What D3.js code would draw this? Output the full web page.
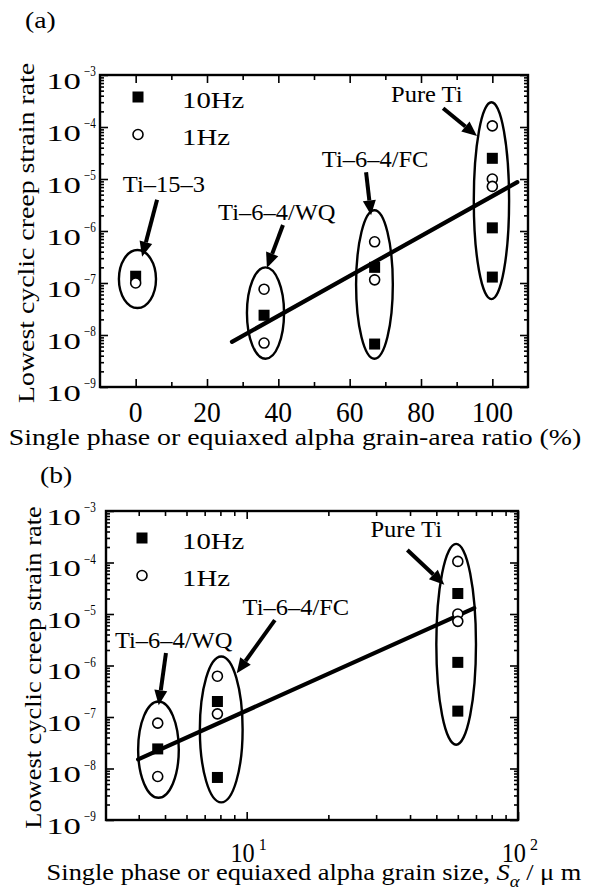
<!DOCTYPE html>
<html>
<head>
<meta charset="utf-8">
<script src="https://cdn.jsdelivr.net/npm/d3@7"></script>
<style>
    body { margin: 0; background: #fff; }
</style>
</head>
<body>
<div id="chart"></div>
<script>

// ---- data ----
const alloys     = ["Ti–15–3", "Ti–6–4/WQ", "Ti–6–4/FC", "Pure Ti"];
const areaRatio  = [0, 36, 67, 100];          // %
const grainSize  = [null, 4.7, 7.8, 60];      // µm (Ti-15-3 not in panel b)
const rate10Hz   = [[1.35e-7], [2.4e-8], [2.0e-7, 6.7e-9], [2.5e-5, 1.15e-6, 1.3e-7]];
const rate1Hz    = [[1.0e-7], [7.6e-8, 7.0e-9], [6.2e-7, 1.15e-7], [1.05e-4, 1.0e-5, 7.2e-6]];

// regression lines
const fitAreaX   = [27, 107];
const fitAreaY   = [7.4e-9, 8.7e-6];
const fitSizeX   = [3.98, 69];
const fitSizeY   = [1.5e-8, 1.3e-5];

// group outlines: x extent and y extent in data units
const groupAreaX = [[-4.7, 5.7], [31.2, 41.6], [61.8, 72.1], [94.8, 104.7]];
const groupAreaY = [[3.3e-8, 4.3e-7], [3.5e-9, 2.0e-7], [3.5e-9, 2.5e-6], [4.9e-8, 3.0e-4]];
const groupSizeX = [null, [3.98, 5.62], [6.72, 9.66], [50, 70]];
const groupSizeY = [null, [2.7e-9, 2.0e-7], [2.2e-9, 1.5e-6], [2.9e-8, 2.3e-4]];

// label anchor (text start) and arrow from -> to, in data units
const noteArea = [
    {tx: -3.6, ty: 5.6e-6, ax: 6.0,  ay: 4.0e-6, bx: 1.8,  by: 3.2e-7},
    {tx: 23.1, ty: 1.6e-6, ax: 41.3, ay: 1.3e-6, bx: 36.8, by: 1.95e-7},
    {tx: 52.2, ty: 1.7e-5, ax: 64.6, ay: 1.35e-5, bx: 66.0, by: 2.0e-6},
    {tx: 71.6, ty: 3.0e-4, ax: 86.2, ay: 2.3e-4, bx: 95.7, by: 6.7e-5}
];
const noteSize = [
    null,
    {tx: 3.27, ty: 2.2e-6, ax: 5.04, ay: 1.75e-6, bx: 4.74, by: 1.7e-7},
    {tx: 9.66, ty: 9.5e-6, ax: 12.7, ay: 7.6e-6, bx: 9.19, by: 7.1e-7},
    {tx: 28.6, ty: 3.1e-4, ax: 39.1, ay: 1.75e-4, bx: 53.5, by: 3.7e-5}
];

const yMajor = [1e-9, 1e-8, 1e-7, 1e-6, 1e-5, 1e-4, 1e-3];
const yExp   = ["−9", "−8", "−7", "−6", "−5", "−4", "−3"];
const areaTicks      = [0, 20, 40, 60, 80, 100];
const areaMinorTicks = [10, 30, 50, 70, 90];
const sizeTicks      = [10, 100];
const sizeExp        = ["1", "2"];
const sizeMinorTicks = [4, 5, 6, 7, 8, 9, 20, 30, 40, 50, 60, 70, 80, 90];
const legendNames    = ["10Hz", "1Hz"];

const FONT = "'Liberation Serif', 'DejaVu Serif', serif";

let svg = d3.select("#chart").append("svg")
    .attr("width", 590)
    .attr("height", 894);

// text helper, sx stretches glyphs along the baseline
function addText(g, str, x, y, size, opts) {
    opts = opts || {};
    let tf = "translate(" + x + "," + y + ")";
    if (opts.rotate) tf += " rotate(" + opts.rotate + ")";
    tf += " scale(" + (opts.sx || 1) + ",1)";
    return g.append("text")
        .attr("transform", tf)
        .attr("text-anchor", opts.anchor || "start")
        .attr("font-family", FONT)
        .attr("font-size", size)
        .attr("fill", "#000")
        .text(str);
}


class CreepPanel {

    constructor(svg, cfg) {
        this.svg = svg;
        this.cfg = cfg;
        this.initVis();
    }

    initVis() {
        let vis = this, c = vis.cfg;

        vis.g = vis.svg.append("g");

        vis.x = (c.logX ? d3.scaleLog() : d3.scaleLinear())
            .domain(c.xDomain)
            .range([c.left, c.right]);

        vis.y = d3.scaleLog()
            .domain([1e-9, 1e-3])
            .range([c.bottom, c.top]);

        // minor ticks for log y
        vis.yMinor = [];
        for (let e = -9; e < -3; e++) {
            for (let k = 2; k <= 9; k++) vis.yMinor.push(k * Math.pow(10, e));
        }

        vis.drawAxes();
        vis.drawMarks();
    }

    drawAxes() {
        let vis = this, c = vis.cfg;
        let g = vis.g;

        let tickAxis = function(axisFn, scale, values, size, tf) {
            let a = g.append("g")
                .attr("transform", tf)
                .call(axisFn(scale).tickValues(values).tickSize(-size).tickFormat(""));
            a.select(".domain").remove();
            a.selectAll("line").attr("stroke", "#000").attr("stroke-width", 1.6);
        };

        tickAxis(d3.axisLeft, vis.y, yMajor, 8, "translate(" + c.left + ",0)");
        tickAxis(d3.axisLeft, vis.y, vis.yMinor, 4, "translate(" + c.left + ",0)");
        tickAxis(d3.axisRight, vis.y, yMajor, 8, "translate(" + c.right + ",0)");
        tickAxis(d3.axisRight, vis.y, vis.yMinor, 4, "translate(" + c.right + ",0)");

        tickAxis(d3.axisBottom, vis.x, c.xMajor, 8, "translate(0," + c.bottom + ")");
        tickAxis(d3.axisBottom, vis.x, c.xMinor, 5, "translate(0," + c.bottom + ")");
        tickAxis(d3.axisTop, vis.x, c.xMajor, 8, "translate(0," + c.top + ")");
        tickAxis(d3.axisTop, vis.x, c.xMinor, 5, "translate(0," + c.top + ")");

        // frame
        g.append("rect")
            .attr("x", c.left).attr("y", c.top)
            .attr("width", c.right - c.left)
            .attr("height", c.bottom - c.top)
            .attr("fill", "none")
            .attr("stroke", "#000")
            .attr("stroke-width", 2.4);

        // y tick labels 10^n
        yMajor.forEach((v, i) => {
            let yy = vis.y(v);
            addText(g, "10", 81, yy + 13.5, 24, {anchor: "end", sx: 1.45});
            addText(g, yExp[i], 84, yy + 1, 14, {sx: 0.8});
        });

        // x tick labels
        if (c.logX) {
            sizeTicks.forEach((v, i) => {
                let xx = vis.x(v);
                addText(g, "10", xx + 8, c.bottom + 42, 27, {anchor: "end", sx: 0.9});
                addText(g, sizeExp[i], xx + 12, c.bottom + 30, 16);
            });
        } else {
            areaTicks.forEach(v => {
                addText(g, v, vis.x(v), c.bottom + 35, 29, {anchor: "middle", sx: 0.95});
            });
        }

        // axis titles
        addText(g, "Lowest cyclic creep strain rate", c.yTitleX, (c.top + c.bottom) / 2 + 2, 24,
            {rotate: -90, anchor: "middle", sx: c.yTitleSx});

        if (c.logX) {
            let t = addText(g, "Single phase or equiaxed alpha grain size, ", 314, c.bottom + 60, 24,
                {anchor: "middle", sx: 1.1});
            t.append("tspan").style("font-style", "italic").text("S");
            t.append("tspan").style("font-style", "italic").attr("font-size", 17)
                .attr("dy", 7).text("α");
            t.append("tspan").attr("dy", -7).text(" / μ m");
        } else {
            addText(g, "Single phase or equiaxed alpha grain-area ratio (%)", 295, c.bottom + 58, 24,
                {anchor: "middle", sx: 1.16});
        }

        // panel letter
        addText(g, c.letter, c.letterX, c.letterY, 24, {sx: 1.15});

        // legend
        g.append("rect")
            .attr("x", c.legX - 5.5).attr("y", c.legY - 5.5)
            .attr("width", 11).attr("height", 11)
            .attr("fill", "#000");
        g.append("circle")
            .attr("cx", c.legX).attr("cy", c.legY + 37.5)
            .attr("r", 5)
            .attr("fill", "#fff").attr("stroke", "#000").attr("stroke-width", 1.6);
        addText(g, legendNames[0], 182, c.legY + 11, 24, {sx: 1.2});
        addText(g, legendNames[1], 182, c.legY + 48, 24, {sx: 1.2});
    }

    drawMarks() {
        let vis = this, c = vis.cfg;
        let g = vis.g;

        let rows = alloys.map((name, i) => ({
            name: name,
            xv: c.xValues[i],
            gx: c.groupX[i],
            gy: c.groupY[i],
            note: c.notes[i],
            r10: rate10Hz[i],
            r1: rate1Hz[i]
        })).filter(d => d.xv != null);

        // group ellipses
        g.selectAll(".group")
            .data(rows)
            .enter().append("ellipse")
            .attr("class", "group")
            .attr("cx", d => (vis.x(d.gx[0]) + vis.x(d.gx[1])) / 2)
            .attr("cy", d => (vis.y(d.gy[0]) + vis.y(d.gy[1])) / 2)
            .attr("rx", d => Math.abs(vis.x(d.gx[1]) - vis.x(d.gx[0])) / 2)
            .attr("ry", d => Math.abs(vis.y(d.gy[0]) - vis.y(d.gy[1])) / 2)
            .attr("fill", "none")
            .attr("stroke", "#000")
            .attr("stroke-width", 2.4);

        // fit line
        g.append("line")
            .attr("x1", vis.x(c.fitX[0])).attr("y1", vis.y(c.fitY[0]))
            .attr("x2", vis.x(c.fitX[1])).attr("y2", vis.y(c.fitY[1]))
            .attr("stroke", "#000")
            .attr("stroke-width", 4.2)
            .attr("stroke-linecap", "round");

        // points
        let squares = [], circles = [];
        rows.forEach(d => {
            d.r10.forEach(v => squares.push({x: d.xv, y: v}));
            d.r1.forEach(v => circles.push({x: d.xv, y: v}));
        });

        g.selectAll(".sq")
            .data(squares)
            .enter().append("rect")
            .attr("class", "sq")
            .attr("x", d => vis.x(d.x) - 5.5)
            .attr("y", d => vis.y(d.y) - 5.5)
            .attr("width", 11).attr("height", 11)
            .attr("fill", "#000");

        g.selectAll(".ci")
            .data(circles)
            .enter().append("circle")
            .attr("class", "ci")
            .attr("cx", d => vis.x(d.x))
            .attr("cy", d => vis.y(d.y))
            .attr("r", 5)
            .attr("fill", "#fff")
            .attr("stroke", "#000")
            .attr("stroke-width", 1.6);

        // annotations: label + arrow
        rows.forEach(d => {
            let n = d.note;
            addText(g, d.name, vis.x(n.tx), vis.y(n.ty), 24, {sx: 1.02});

            let x1 = vis.x(n.ax), y1 = vis.y(n.ay),
                x2 = vis.x(n.bx), y2 = vis.y(n.by);
            let ang = Math.atan2(y2 - y1, x2 - x1);
            let headLen = 15, headW = 6.5;
            let bx = x2 - headLen * Math.cos(ang), by = y2 - headLen * Math.sin(ang);

            g.append("line")
                .attr("x1", x1).attr("y1", y1)
                .attr("x2", bx).attr("y2", by)
                .attr("stroke", "#000")
                .attr("stroke-width", 4);

            let px = -Math.sin(ang), py = Math.cos(ang);
            g.append("path")
                .attr("d", "M" + x2 + "," + y2 +
                    "L" + (bx + headW * px) + "," + (by + headW * py) +
                    "L" + (bx - headW * px) + "," + (by - headW * py) + "Z")
                .attr("fill", "#000");
        });
    }
}


new CreepPanel(svg, {
    left: 100, right: 528, top: 75, bottom: 387,
    logX: false,
    xDomain: [-10, 110],
    xMajor: areaTicks,
    xMinor: areaMinorTicks,
    xValues: areaRatio,
    groupX: groupAreaX, groupY: groupAreaY,
    notes: noteArea,
    fitX: fitAreaX, fitY: fitAreaY,
    letter: "(a)", letterX: 25, letterY: 28,
    legX: 138, legY: 97,
    yTitleX: 34, yTitleSx: 1.16
});

new CreepPanel(svg, {
    left: 106, right: 518, top: 511, bottom: 820,
    logX: true,
    xDomain: [3.03, 100],
    xMajor: sizeTicks,
    xMinor: sizeMinorTicks,
    xValues: grainSize,
    groupX: groupSizeX, groupY: groupSizeY,
    notes: noteSize,
    fitX: fitSizeX, fitY: fitSizeY,
    letter: "(b)", letterX: 40, letterY: 483,
    legX: 142, legY: 538,
    yTitleX: 41, yTitleSx: 1.1
});

</script>
</body>
</html>
